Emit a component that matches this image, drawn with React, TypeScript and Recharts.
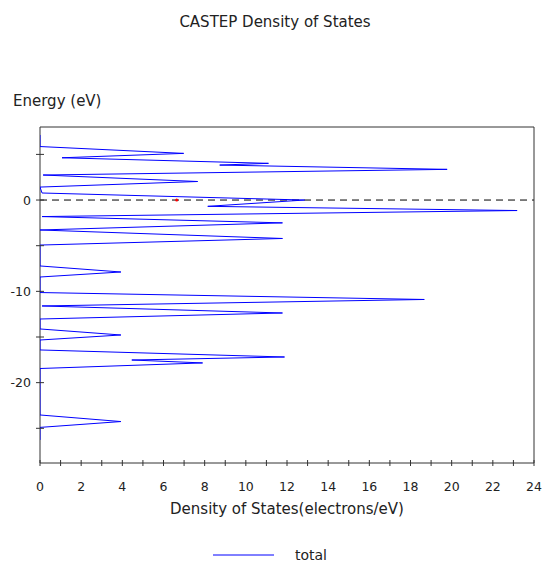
import React from 'react';
import { ScatterChart, Scatter, XAxis, YAxis, ReferenceLine, ReferenceDot } from 'recharts';

// Energy (eV) of each vertex of the "total" DOS curve, top to bottom
const energies = [
  7.12, 5.86, 5.11, 4.63, 4.02, 3.83, 3.36, 2.74, 2.03, 1.42, 0.77, 0.0, -0.69, -1.15,
  -1.81, -2.5, -3.28, -4.21, -4.93, -7.22, -7.88, -8.43, -10.13, -10.89, -11.6, -12.37,
  -13.03, -14.12, -14.78, -15.33, -16.42, -17.19, -17.52, -17.84, -18.45, -23.54, -24.26,
  -24.9, -26.27,
];
// Density of states (electrons/eV) at each vertex
const totalDos = [
  0, 0, 6.98, 1.07, 11.1, 8.73, 19.78, 0.15, 7.66, 0, 0.1, 12.85, 8.15, 23.18,
  0.1, 11.78, 0, 11.78, 0, 0, 3.93, 0, 0, 18.67, 0.1, 11.78,
  0, 0, 3.93, 0, 0, 11.88, 4.46, 7.9, 0, 0, 3.93,
  0, 0,
];
const xTicks = [0, 1, 2, 3, 4, 5, 6, 7, 8, 9, 10, 11, 12, 13, 14, 15, 16, 17, 18, 19, 20, 21, 22, 23, 24];
const yTicks = [-25, -20, -15, -10, -5, 0, 5];
const fermiMarkerDos = 6.64;

const FONT = '"DejaVu Sans", Verdana, sans-serif';
const AXIS = '#333';
const TEXT = '#222';

const XTick = (props: any) => {
  const { x, y, payload } = props;
  const v = payload.value;
  return (
    <g>
      <line x1={x} x2={x} y1={y - 3} y2={y + 3} stroke={AXIS} strokeWidth={1} />
      {v % 2 === 0 && (
        <text x={x} y={y + 27.5} textAnchor="middle" fontFamily={FONT} fontSize={12.5} fill={TEXT}>
          {v}
        </text>
      )}
    </g>
  );
};

const YTick = (props: any) => {
  const { x, y, payload } = props;
  const v = payload.value;
  return (
    <g>
      <line x1={x - 4} x2={x + 4} y1={y} y2={y} stroke={AXIS} strokeWidth={1} />
      {v % 10 === 0 && (
        <text x={x - 9} y={y + 4.5} textAnchor="end" fontFamily={FONT} fontSize={12.5} fill={TEXT}>
          {v}
        </text>
      )}
    </g>
  );
};

export default function App() {
  const data = energies.map((e, i) => ({ e, dos: totalDos[i] }));
  return (
    <div style={{ position: 'absolute', left: 0, top: 0, width: 544, height: 561, background: '#fff', overflow: 'hidden' }}>
      <ScatterChart width={544} height={561} margin={{ top: 0, right: 0, bottom: 0, left: 0 }}>
        <XAxis
          xAxisId="b"
          type="number"
          dataKey="dos"
          domain={[0, 24]}
          ticks={xTicks}
          orientation="bottom"
          height={98}
          tickSize={0}
          tickMargin={0}
          tick={XTick}
          tickLine={false}
          axisLine={{ stroke: AXIS }}
          allowDataOverflow
          interval={0}
        />
        <XAxis
          xAxisId="t"
          type="number"
          domain={[0, 24]}
          orientation="top"
          height={127}
          tick={false}
          tickLine={false}
          axisLine={{ stroke: AXIS }}
        />
        <YAxis
          yAxisId="l"
          type="number"
          dataKey="e"
          domain={[-28.8, 8]}
          ticks={yTicks}
          width={40}
          tickSize={0}
          tickMargin={0}
          tick={YTick}
          tickLine={false}
          axisLine={{ stroke: AXIS }}
          allowDataOverflow
          interval={0}
        />
        <YAxis
          yAxisId="r"
          orientation="right"
          type="number"
          domain={[0, 1]}
          width={10}
          tick={false}
          tickLine={false}
          axisLine={{ stroke: AXIS }}
        />
        <Scatter
          xAxisId="b"
          yAxisId="l"
          name="total"
          data={data}
          line={{ stroke: '#0000ff', strokeWidth: 1 }}
          shape={() => <g />}
          fill="#0000ff"
          stroke="#0000ff"
          isAnimationActive={false}
        />
        <ReferenceLine xAxisId="b" yAxisId="l" y={0} stroke="#000" strokeWidth={1} strokeDasharray="7 5" />
        <ReferenceDot xAxisId="b" yAxisId="l" x={fermiMarkerDos} y={0} r={1.5} fill="#ff0000" stroke="none" />
      </ScatterChart>
      <svg width={544} height={561} style={{ position: 'absolute', left: 0, top: 0, pointerEvents: 'none' }}>
        <text x={275} y={26.5} textAnchor="middle" fontFamily={FONT} fontSize={15} fill={TEXT}>
          CASTEP Density of States
        </text>
        <text x={13} y={106} fontFamily={FONT} fontSize={15} fill={TEXT}>
          Energy (eV)
        </text>
        <text x={287} y={514} textAnchor="middle" fontFamily={FONT} fontSize={15} fill={TEXT}>
          Density of States(electrons/eV)
        </text>
        <line x1={213} x2={274} y1={555} y2={555} stroke="#0000ff" strokeWidth={1} />
        <text x={295} y={559.5} fontFamily={FONT} fontSize={14} fill={TEXT}>
          total
        </text>
      </svg>
    </div>
  );
}
